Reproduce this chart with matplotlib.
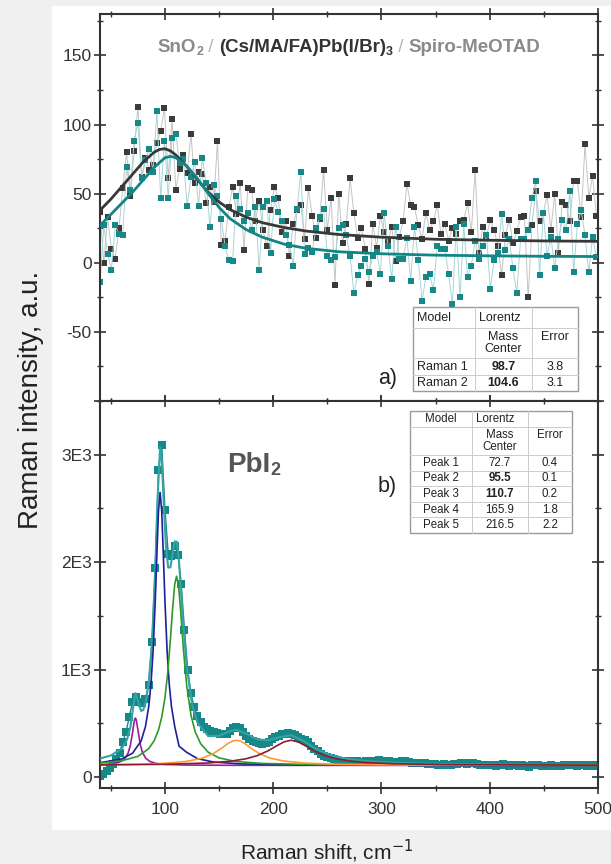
import matplotlib
matplotlib.use("Agg")
import matplotlib.pyplot as plt
import matplotlib.ticker as ticker
from matplotlib.patches import Rectangle

plt.rcParams["font.family"] = ["Liberation Sans", "DejaVu Sans"]
plt.rcParams["axes.unicode_minus"] = False

# --- Data: panel a) (SnO2 / perovskite / Spiro-MeOTAD) ---

shift_a = [
    40, 43.5, 47, 50.5, 54, 57.5, 61, 64.5, 68, 71.5,
    75, 78.5, 82, 85.5, 89, 92.5, 96, 99.5, 103, 106.5,
    110, 113.5, 117, 120.5, 124, 127.5, 131, 134.5, 138, 141.5,
    145, 148.5, 152, 155.5, 159, 162.5, 166, 169.5, 173, 176.5,
    180, 183.5, 187, 190.5, 194, 197.5, 201, 204.5, 208, 211.5,
    215, 218.5, 222, 225.5, 229, 232.5, 236, 239.5, 243, 246.5,
    250, 253.5, 257, 260.5, 264, 267.5, 271, 274.5, 278, 281.5,
    285, 288.5, 292, 295.5, 299, 302.5, 306, 309.5, 313, 316.5,
    320, 323.5, 327, 330.5, 334, 337.5, 341, 344.5, 348, 351.5,
    355, 358.5, 362, 365.5, 369, 372.5, 376, 379.5, 383, 386.5,
    390, 393.5, 397, 400.5, 404, 407.5, 411, 414.5, 418, 421.5,
    425, 428.5, 432, 435.5, 439, 442.5, 446, 449.5, 453, 456.5,
    460, 463.5, 467, 470.5, 474, 477.5, 481, 484.5, 488, 491.5,
    495, 498.5,
]
raman_dark = [
    37, 0, 33, 10, 3, 25, 54, 80, 48, 81,
    113, 62, 76, 67, 71, 87, 95, 112, 61, 104,
    53, 68, 78, 65, 93, 58, 66, 64, 43, 55,
    44, 88, 13, 16, 40, 55, 35, 58, 9, 54,
    53, 30, 45, 24, 12, 38, 55, 47, 22, 30,
    5, 28, 38, 42, 17, 54, 34, 18, 32, 67,
    24, 47, -16, 50, 14, 28, 61, 36, 18, 25,
    10, -15, 28, 11, 34, 22, 15, 26, 1, 19,
    30, 57, 42, 40, 27, 17, 36, 24, 30, 42,
    21, 28, 16, 25, 21, 30, 31, 43, 22, 67,
    7, 26, 19, 31, 24, 12, -9, 20, 31, 14,
    23, 33, 34, -25, 27, 52, 30, 36, 49, 24,
    50, 7, 44, 42, 30, 59, 59, 33, 86, 47,
    63, 34,
]
raman_teal = [
    -14, 27, 6, -5, 27, 21, 20, 69, 53, 88,
    101, 61, 74, 82, 66, 110, 47, 88, 47, 90,
    93, 72, 75, 41, 62, 73, 41, 76, 58, 26,
    56, 48, 32, 12, 2, 1, 48, 39, 30, 36,
    24, 40, -5, 40, 45, 7, 46, 37, 30, 20,
    13, -2, 39, 66, 6, 11, 8, 25, 33, 39,
    5, 2, 4, 25, 27, 20, 5, -22, -9, -2,
    3, -7, 5, 8, -8, 36, 12, -12, 26, 3,
    3, 18, -13, 26, 2, -28, -10, -8, -20, 12,
    10, 10, -8, -30, 26, -25, 28, -10, -2, 16,
    3, 12, 20, -19, 2, 7, 35, 9, 17, -4,
    -22, 17, 17, 24, 47, 59, -9, 36, 5, 19,
    -4, 17, 31, 24, 52, -7, 28, 38, 20, -7,
    19, 4,
]

fit_dark_x = [40, 50, 60, 70, 80, 90, 95, 100, 105, 110, 120, 130, 140, 150,
              160, 175, 190, 210, 230, 260, 300, 350, 400, 450, 500]
fit_dark_y = [38, 46, 55, 64, 73, 80, 82, 82.5, 81, 78, 70, 60, 51, 44,
              38.5, 33, 29, 25.5, 23, 20.5, 18.5, 17, 16.3, 15.8, 15.5]
fit_teal_x = [40, 50, 60, 70, 80, 90, 100, 105, 110, 120, 130, 140, 150,
              160, 175, 190, 210, 230, 260, 300, 350, 400, 450, 500]
fit_teal_y = [27, 35, 43, 51, 60, 69, 76, 77, 76, 70, 61, 50, 40,
              32, 24, 18.5, 13.5, 10.5, 8, 6.5, 5.5, 5, 4.7, 4.5]

table_a = [
    ["Model", "Lorentz", ""],
    ["", "Mass\nCenter", "Error\n "],
    ["Raman 1", "98.7", "3.8"],
    ["Raman 2", "104.6", "3.1"],
]
table_a_bold = {(2, 1), (3, 1)}

# --- Data: panel b) (PbI2) ---

shift_b = [
    40, 43, 46, 49, 52, 55, 58, 61, 64, 67,
    70, 73, 76, 79, 82, 85, 88, 91, 94, 97,
    100, 103, 106, 109, 112, 115, 118, 121, 124, 127,
    130, 133, 136, 139, 142, 145, 148, 151, 154, 157,
    160, 163, 166, 169, 172, 175, 178, 181, 184, 187,
    190, 193, 196, 199, 202, 205, 208, 211, 214, 217,
    220, 223, 226, 229, 232, 235, 238, 241, 244, 247,
    250, 253, 256, 259, 262, 265, 268, 271, 274, 277,
    280, 283, 286, 289, 292, 295, 298, 301, 304, 307,
    310, 313, 316, 319, 322, 325, 328, 331, 334, 337,
    340, 343, 346, 349, 352, 355, 358, 361, 364, 367,
    370, 373, 376, 379, 382, 385, 388, 391, 394, 397,
    400, 403, 406, 409, 412, 415, 418, 421, 424, 427,
    430, 433, 436, 439, 442, 445, 448, 451, 454, 457,
    460, 463, 466, 469, 472, 475, 478, 481, 484, 487,
    490, 493, 496, 499,
]
pbi2 = [
    10, 30, 60, 85, 125, 170, 225, 330, 420, 560,
    700, 750, 700, 690, 730, 860, 1260, 1950, 2860, 3090,
    2490, 2080, 2060, 2150, 2070, 1800, 1370, 1000, 780, 650,
    570, 510, 470, 445, 432, 420, 410, 400, 398, 405,
    430, 455, 468, 455, 420, 385, 355, 340, 325, 318,
    305, 315, 330, 355, 370, 385, 398, 405, 410, 400,
    390, 375, 360, 345, 325, 295, 265, 240, 220, 200,
    185, 175, 168, 160, 155, 150, 148, 146, 148, 147,
    140, 145, 152, 150, 155, 150, 156, 152, 148, 150,
    145, 140, 146, 148, 150, 138, 132, 135, 128, 130,
    132, 125, 122, 125, 118, 112, 120, 118, 115, 120,
    125, 128, 130, 125, 135, 128, 120, 115, 118, 110,
    118, 112, 108, 115, 120, 112, 105, 110, 115, 108,
    112, 105, 98, 110, 118, 112, 105, 108, 102, 110,
    105, 100, 108, 112, 115, 118, 110, 105, 112, 118,
    108, 112, 105, 110,
]

cum_x = [40, 50, 60, 65, 68, 70, 72.7, 75, 78, 80, 82, 85, 88, 91, 93, 95.5,
         97, 99, 101, 103, 105, 107, 109, 111, 113, 116, 120, 125, 130, 140,
         150, 160, 166, 175, 185, 195, 205, 216.5, 228, 240, 255, 270, 290,
         320, 360, 420, 500]
cum_y = [174, 202, 266, 351, 464, 607, 782, 714, 616, 627, 688, 877, 1244,
         1926, 2555, 3072, 2961, 2517, 2130, 1950, 1953, 2071, 2194, 2191,
         2004, 1545, 1036, 679, 507, 382, 385, 428, 442, 406, 353, 343, 370,
         391, 338, 261, 199, 167, 146, 131, 122, 117, 114]

peak1_x = [40, 50, 56, 60, 63, 66, 68, 70, 71, 72, 72.7, 73.5, 75, 77, 79,
           82, 86, 92, 100, 120, 160, 250, 500]
peak1_y = [116.5, 123, 134, 150, 174, 225, 295, 412, 483, 537, 550, 533, 441,
           314, 236, 179, 146.5, 128, 119, 113, 111, 110.2, 110]
peak2_x = [40, 60, 70, 78, 82, 85, 87, 89, 91, 92.5, 94, 95.5, 97, 98.5, 100,
           102, 104, 106, 109, 113, 120, 130, 145, 170, 220, 300, 500]
peak2_y = [135, 170, 223, 338, 472, 657, 860, 1170, 1632, 2068, 2474, 2650,
           2474, 2068, 1632, 1170, 860, 657, 472, 289, 232, 173, 141, 124, 115,
           112, 110.5]
peak3_x = [40, 60, 75, 85, 90, 94, 97, 100, 102.5, 105, 107, 109, 110.7,
           112.5, 114.5, 117, 120, 124, 128, 133, 140, 150, 165, 190, 240, 320,
           500]
peak3_y = [132, 153, 194, 266, 339, 439, 558, 741, 968, 1277, 1560, 1794,
           1870, 1785, 1546, 1196, 859, 578, 420, 311, 232, 180, 147, 128, 117,
           112.6, 110.7]
peak4_x = [40, 80, 100, 120, 135, 145, 152, 158, 162, 165.9, 170, 174, 180,
           187, 197, 210, 230, 260, 320, 500]
peak4_y = [115.8, 122, 130, 147, 179, 222, 268, 312, 335, 344, 335, 311, 266,
           221, 178, 150, 131, 120, 114, 111]
peak5_x = [40, 100, 140, 160, 175, 185, 195, 203, 210, 216.5, 223, 230, 238,
           248, 258, 270, 285, 310, 360, 500]
peak5_y = [114.6, 120, 132.6, 148, 172, 200, 244.5, 291, 329, 344, 329, 291,
           244.5, 200, 172, 152, 137.5, 125.6, 117, 112]

table_b = [
    ["Model", "Lorentz", ""],
    ["", "Mass\nCenter", "Error\n "],
    ["Peak 1", "72.7", "0.4"],
    ["Peak 2", "95.5", "0.1"],
    ["Peak 3", "110.7", "0.2"],
    ["Peak 4", "165.9", "1.8"],
    ["Peak 5", "216.5", "2.2"],
]
table_b_bold = {(3, 1), (4, 1)}

DARK = "#3b3b3b"
TEAL = "#178888"


def draw_table(ax, left, bottom, col_w, row_h, rows, bold, fs, col0_ha):
    width, height = sum(col_w), sum(row_h)
    ax.add_patch(Rectangle((left, bottom), width, height, transform=ax.transAxes,
                           facecolor="white", edgecolor="#9a9a9a", lw=1.0,
                           zorder=6, clip_on=False))
    tops, y = [], bottom + height
    for h in row_h:
        tops.append(y)
        y -= h
    lefts, x = [], left
    for w in col_w:
        lefts.append(x)
        x += w
    for yy in tops[1:]:
        ax.plot([left, left + width], [yy, yy], transform=ax.transAxes,
                color="#cccccc", lw=0.7, zorder=7, clip_on=False)
    for xx in lefts[1:]:
        ax.plot([xx, xx], [bottom, bottom + height], transform=ax.transAxes,
                color="#cccccc", lw=0.7, zorder=7, clip_on=False)
    for r, row in enumerate(rows):
        yc = tops[r] - row_h[r] / 2
        for c, s in enumerate(row):
            if not s:
                continue
            ha = col0_ha if c == 0 else ("left" if s == "Lorentz" else "center")
            xt = lefts[c] + 0.008 if ha == "left" else lefts[c] + col_w[c] / 2
            ax.text(xt, yc, s, ha=ha, va="center", transform=ax.transAxes,
                    fontsize=fs, color="#222222", linespacing=1.0, zorder=8,
                    fontweight="bold" if (r, c) in bold else "normal")


def chain_text(ax, x, y, pieces):
    s, color, size, weight, dy = pieces[0]
    first = ax.text(x, y, s, color=color, fontsize=size, fontweight=weight,
                    transform=ax.transAxes, ha="left", va="bottom", zorder=9)
    arts, prev = [first], first
    for s, color, size, weight, dy in pieces[1:]:
        t = ax.annotate(s, xy=(1, 0), xycoords=(prev, first), xytext=(0, dy),
                        textcoords="offset points", ha="left", va="bottom",
                        color=color, fontsize=size, fontweight=weight, zorder=9)
        arts.append(t)
        prev = t
    return first, arts


fig = plt.figure(figsize=(6.11, 8.64), dpi=100, facecolor="#f0f0f0")
panel = Rectangle((52 / 611, 0.0394), 1 - 52 / 611, 0.9537,
                  transform=fig.transFigure, facecolor="white",
                  edgecolor="none", zorder=-10)
fig.patches.append(panel)

ax_a = fig.add_axes([0.1637, 0.5359, 0.815, 0.4479])
ax_b = fig.add_axes([0.1637, 0.0880, 0.815, 0.4479])

# --- Panel a) ---
ax_a.plot(shift_a, raman_dark, color="#c4c4c4", lw=0.7, zorder=2)
ax_a.plot(shift_a, raman_dark, "s", color=DARK, ms=5, mew=0, zorder=2)
ax_a.plot(shift_a, raman_teal, color="#a6d6d6", lw=0.7, zorder=2)
ax_a.plot(shift_a, raman_teal, "s", color=TEAL, ms=5, mew=0, zorder=2)
ax_a.plot(fit_dark_x, fit_dark_y, color="#383838", lw=2.0, zorder=3)
ax_a.plot(fit_teal_x, fit_teal_y, color="#138585", lw=2.0, zorder=3)
ax_a.set_ylim(-100, 180)
ax_a.yaxis.set_major_locator(ticker.MultipleLocator(50))
ax_a.yaxis.set_minor_locator(ticker.MultipleLocator(25))
ax_a.yaxis.set_major_formatter(ticker.FuncFormatter(
    lambda v, _: "" if v < -60 or v > 160 else f"{v:.0f}"))
ax_a.tick_params(axis="x", which="both", labelbottom=False)

draw_table(ax_a, 0.6285, 0.0258, [0.1245, 0.1145, 0.0924],
           [0.0543, 0.0775, 0.0439, 0.0413], table_a, table_a_bold, 9, "left")
ax_a.text(0.577, 0.059, "a)", transform=ax_a.transAxes, fontsize=15.5,
          ha="center", va="center", color="#222222")

title_first, title_arts = chain_text(ax_a, 0.2, 0.891, [
    ("SnO", "#8a8a8a", 13.5, "bold", 0),
    ("2", "#8a8a8a", 9, "bold", -1),
    (" / ", "#b5b5b5", 13.5, "normal", 0),
    ("(Cs/MA/FA)Pb(I/Br)", "#333333", 13.5, "bold", 0),
    ("3", "#333333", 9, "bold", -1),
    (" / ", "#b5b5b5", 13.5, "normal", 0),
    ("Spiro-MeOTAD", "#8a8a8a", 13.5, "bold", 0),
])

# --- Panel b) ---
ax_b.plot(shift_b, pbi2, "s-", color=TEAL, lw=1.0, ms=5.3, mew=0, zorder=2)
ax_b.plot(cum_x, cum_y, color="#35a3a3", lw=1.5, zorder=3)
ax_b.plot(peak1_x, peak1_y, color="#9a1f9a", lw=1.2, zorder=4)
ax_b.plot(peak2_x, peak2_y, color="#1f1f99", lw=1.2, zorder=4)
ax_b.plot(peak3_x, peak3_y, color="#2c9a2c", lw=1.2, zorder=4)
ax_b.plot(peak4_x, peak4_y, color="#ff9933", lw=1.2, zorder=4)
ax_b.plot(peak5_x, peak5_y, color="#8b1c2c", lw=1.2, zorder=4)
ax_b.set_ylim(-100, 3500)
ax_b.yaxis.set_major_locator(ticker.FixedLocator([0, 1000, 2000, 3000]))
ax_b.yaxis.set_minor_locator(ticker.MultipleLocator(500))
ax_b.yaxis.set_major_formatter(ticker.FuncFormatter(
    lambda v, _: "0" if v == 0 else f"{v / 1000:.0f}E3"))

draw_table(ax_b, 0.6225, 0.659, [0.1245, 0.1124, 0.0884],
           [0.0406, 0.0731, 0.0403, 0.0403, 0.0403, 0.0403, 0.0403],
           table_b, table_b_bold, 8.3, "center")
ax_b.text(0.577, 0.780, "b)", transform=ax_b.transAxes, fontsize=15.5,
          ha="center", va="center", color="#222222")
chain_text(ax_b, 0.255, 0.801, [
    ("PbI", "#555555", 20, "bold", 0),
    ("2", "#555555", 13, "bold", -1),
])

for ax in (ax_a, ax_b):
    ax.set_xlim(40, 500)
    ax.xaxis.set_major_locator(ticker.MultipleLocator(100))
    ax.xaxis.set_minor_locator(ticker.MultipleLocator(50))
    ax.tick_params(which="both", direction="inout", top=True, right=True,
                   colors="#333333", labelsize=12.5)
    ax.tick_params(which="major", length=8, width=1.2)
    ax.tick_params(which="minor", length=5, width=1.0)
    ax.tick_params(axis="y", pad=2)
    ax.tick_params(axis="x", pad=6)
    for sp in ax.spines.values():
        sp.set_color("#333333")
        sp.set_linewidth(1.5)
    ax.set_facecolor("white")

fig.text(0.051, 0.537, "Raman intensity, a.u.", rotation=90, ha="center",
         va="center", fontsize=20, color="#222222")
fig.text(0.535, 0.015, "Raman shift, cm$^{-1}$", ha="center", va="center",
         fontsize=15, color="#222222")

# center the multi-colour title in panel a)
fig.canvas.draw()
renderer = fig.canvas.get_renderer()
x0 = min(t.get_window_extent(renderer).x0 for t in title_arts)
x1 = max(t.get_window_extent(renderer).x1 for t in title_arts)
title_first.set_x(0.5 - (x1 - x0) / ax_a.bbox.width / 2)

fig.savefig("out.png", dpi=100, facecolor=fig.get_facecolor())
